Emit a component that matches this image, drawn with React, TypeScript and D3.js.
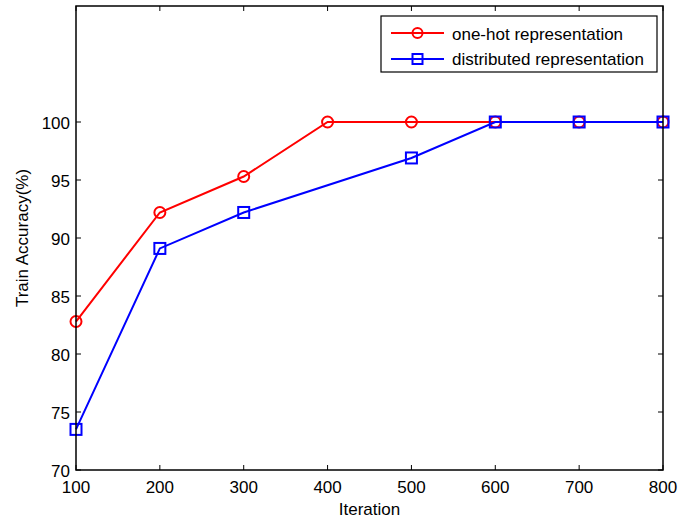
import React from "react";
import * as d3 from "d3";

const redX = [100, 200, 300, 400, 500, 600, 700, 800];
const redY = [82.8, 92.2, 95.3, 100, 100, 100, 100, 100];
const blueX = [100, 200, 300, 500, 600, 700, 800];
const blueY = [73.5, 89.1, 92.2, 96.9, 100, 100, 100];
const xTicks = [100, 200, 300, 400, 500, 600, 700, 800];
const yTicks = [70, 75, 80, 85, 90, 95, 100];
const seriesNames = ["one-hot representation", "distributed representation"];

export default function App() {
  const W = 681, H = 520;
  const L = 76, R = 663, T = 6, B = 470;
  const x = d3.scaleLinear().domain([100, 800]).range([L, R]);
  const y = d3.scaleLinear().domain([70, 110]).range([B, T]);
  const line = d3.line<[number, number]>().x(d => x(d[0])).y(d => y(d[1]));
  const red: [number, number][] = redX.map((v, i) => [v, redY[i]]);
  const blue: [number, number][] = blueX.map((v, i) => [v, blueY[i]]);
  const font = "'Liberation Sans', Arial, sans-serif";
  const fs = 17;
  const tl = 5;
  return (
    <svg width={W} height={H} style={{ position: "absolute", left: 0, top: 0, background: "#fff" }}>
      <rect x={0} y={0} width={W} height={H} fill="#fff" />
      <rect x={L} y={T} width={R - L} height={B - T} fill="#fff" />
      {xTicks.map(t => (
        <g key={"x" + t}>
          <line x1={x(t)} x2={x(t)} y1={B} y2={B - tl} stroke="#000" strokeWidth={1} />
          <line x1={x(t)} x2={x(t)} y1={T} y2={T + tl} stroke="#000" strokeWidth={1} />
          <text x={x(t)} y={493} textAnchor="middle" fontFamily={font} fontSize={fs} fill="#000">{t}</text>
        </g>
      ))}
      {yTicks.map(t => (
        <g key={"y" + t}>
          <line x1={L} x2={L + tl} y1={y(t)} y2={y(t)} stroke="#000" strokeWidth={1} />
          <line x1={R} x2={R - tl} y1={y(t)} y2={y(t)} stroke="#000" strokeWidth={1} />
          <text x={L - 6} y={y(t) + 6.5} textAnchor="end" fontFamily={font} fontSize={fs} fill="#000">{t}</text>
        </g>
      ))}
      <path d={line(red) || ""} fill="none" stroke="#ff0000" strokeWidth={2} />
      {red.map((d, i) => (
        <circle key={"rc" + i} cx={x(d[0])} cy={y(d[1])} r={5.5} fill="none" stroke="#ff0000" strokeWidth={2} />
      ))}
      <path d={line(blue) || ""} fill="none" stroke="#0000ff" strokeWidth={2} />
      {blue.map((d, i) => (
        <rect key={"bs" + i} x={x(d[0]) - 5.5} y={y(d[1]) - 5.5} width={11} height={11} fill="none" stroke="#0000ff" strokeWidth={2} />
      ))}
      <rect x={L} y={T} width={R - L} height={B - T} fill="none" stroke="#000" strokeWidth={1.5} />
      <g>
        <rect x={381} y={16} width={276} height={56} fill="#fff" stroke="#000" strokeWidth={1.2} />
        <line x1={391} x2={444} y1={33} y2={33} stroke="#ff0000" strokeWidth={2} />
        <circle cx={417.5} cy={33} r={5} fill="none" stroke="#ff0000" strokeWidth={2} />
        <text x={452} y={39.5} fontFamily={font} fontSize={fs} fill="#000">{seriesNames[0]}</text>
        <line x1={391} x2={444} y1={59} y2={59} stroke="#0000ff" strokeWidth={2} />
        <rect x={412.5} y={54} width={10} height={10} fill="none" stroke="#0000ff" strokeWidth={2} />
        <text x={452} y={65} fontFamily={font} fontSize={fs} fill="#000">{seriesNames[1]}</text>
      </g>
      <text x={(L + R) / 2} y={515} textAnchor="middle" fontFamily={font} fontSize={fs} fill="#000">Iteration</text>
      <text transform={`translate(28, 238) rotate(-90)`} textAnchor="middle" fontFamily={font} fontSize={fs} fill="#000">Train Accuracy(%)</text>
    </svg>
  );
}
